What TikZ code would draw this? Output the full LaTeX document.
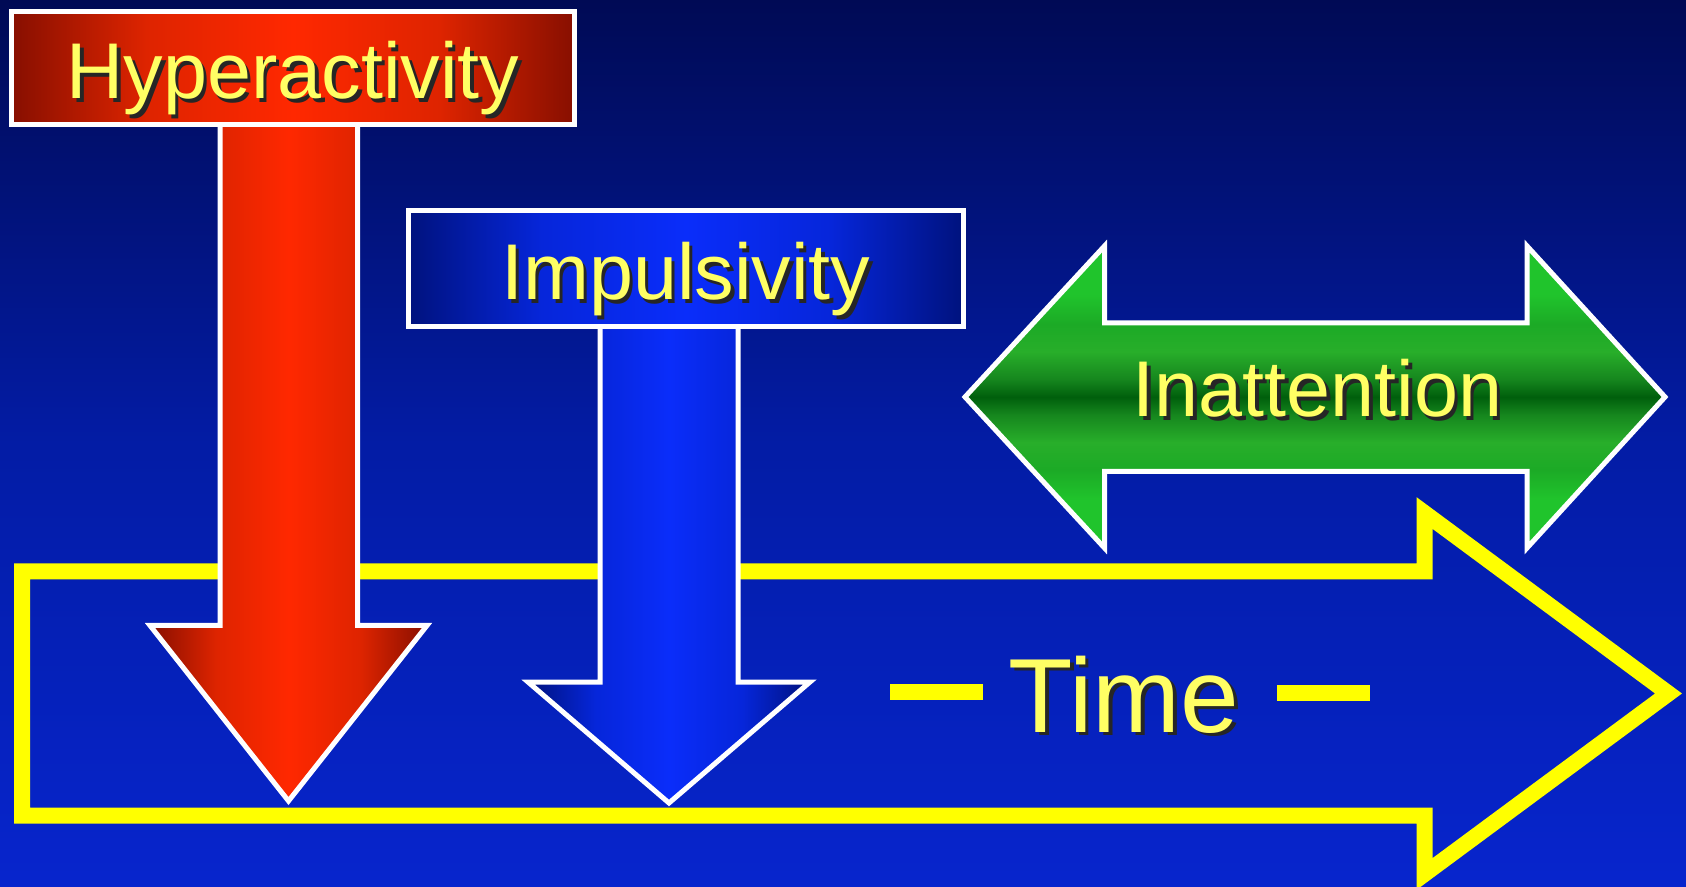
\documentclass[tikz,border=0pt]{standalone}
\usepackage{fontspec}
\setmainfont{Liberation Sans}

\definecolor{bgtop}{RGB}{0,10,85}
\definecolor{bgmid}{RGB}{3,28,165}
\definecolor{bgbot}{RGB}{7,37,205}
\definecolor{reddark}{RGB}{135,15,0}
\definecolor{redmid}{RGB}{222,36,0}
\definecolor{redbright}{RGB}{255,40,0}
\definecolor{bluedark}{RGB}{0,18,125}
\definecolor{bluemid}{RGB}{6,38,218}
\definecolor{bluebright}{RGB}{10,45,250}
\definecolor{greenbright}{RGB}{32,196,44}
\definecolor{greenmid}{RGB}{28,170,38}
\definecolor{greenband}{RGB}{40,174,42}
\definecolor{greenlow}{RGB}{22,135,30}
\definecolor{greendark}{RGB}{0,95,12}
\definecolor{textyellow}{RGB}{255,255,100}
\definecolor{timeyellow}{RGB}{255,255,0}

\pgfdeclarehorizontalshading{redbar}{100bp}{color(0bp)=(reddark); color(25bp)=(reddark);
  color(37bp)=(redmid); color(50bp)=(redbright); color(63bp)=(redmid);
  color(75bp)=(reddark); color(100bp)=(reddark)}
\pgfdeclarehorizontalshading{bluebar}{100bp}{color(0bp)=(bluedark); color(25bp)=(bluedark);
  color(37bp)=(bluemid); color(50bp)=(bluebright); color(63bp)=(bluemid);
  color(75bp)=(bluedark); color(100bp)=(bluedark)}
\pgfdeclareverticalshading{greenbar}{100bp}{color(0bp)=(greenbright); color(33bp)=(greenbright);
  color(38bp)=(greenmid); color(42.5bp)=(greenband); color(47bp)=(greenlow);
  color(50bp)=(greendark); color(53bp)=(greenlow); color(57.5bp)=(greenband);
  color(62bp)=(greenmid); color(67bp)=(greenbright); color(100bp)=(greenbright)}

\newcommand{\bigtext}{\fontsize{22.5}{27}\selectfont}
\newcommand{\hugetext}{\fontsize{30}{36}\selectfont}
\newcommand{\shtext}[1]{\makebox[0pt][l]{\kern1pt\raisebox{-1pt}{\color{black!85}#1}}#1}

\begin{document}
\begin{tikzpicture}

\tikzset{outline/.style = {draw=white, line width=0.05cm}}
\tikzset{labelbox/.style = {outline, shade, inner sep=0pt, text=textyellow,
  text depth=0pt, text height=0.62cm, font=\bigtext}}
\tikzset{arrowtext/.style = {inner sep=0pt, text=textyellow, text depth=0pt}}
\tikzset{timeline/.style = {draw=timeyellow, line width=0.16cm}}

% background
\useasboundingbox (0,0) rectangle (16.86,-8.87);
\shade[top color=bgtop, bottom color=bgbot, middle color=bgmid] (0,0) rectangle (16.86,-8.87);

% time arrow
\draw[timeline] (0.22,-5.715) -- (14.245,-5.715) -- (14.245,-5.13) -- (16.685,-6.935)
  -- (14.245,-8.74) -- (14.245,-8.155) -- (0.22,-8.155) -- cycle;

% down arrows
\shadedraw[outline, shading=redbar] (2.20,-1.245) -- (2.20,-6.255) -- (1.50,-6.255)
  -- (2.885,-8.01) -- (4.27,-6.255) -- (3.575,-6.255) -- (3.575,-1.245) -- cycle;
\shadedraw[outline, shading=bluebar] (6.00,-3.265) -- (6.00,-6.82) -- (5.28,-6.82)
  -- (6.69,-8.03) -- (8.10,-6.82) -- (7.38,-6.82) -- (7.38,-3.265) -- cycle;

% boxes
\node[labelbox, shading=redbar, minimum width=5.63cm, minimum height=1.13cm] (hyper)
  at (2.93,-0.68) {\shtext{Hyperactivity}};
\node[labelbox, shading=bluebar, minimum width=5.55cm, minimum height=1.16cm] (impuls)
  at (6.86,-2.685) {\shtext{Impulsivity}};

% double arrow
\shadedraw[outline, shading=greenbar] (9.65,-3.97) -- (11.045,-2.46) -- (11.045,-3.23)
  -- (15.27,-3.23) -- (15.27,-2.46) -- (16.65,-3.97) -- (15.27,-5.48) -- (15.27,-4.715)
  -- (11.045,-4.715) -- (11.045,-5.48) -- cycle;

% labels
\node[arrowtext, font=\bigtext, text height=0.40cm] (inatt) at (13.175,-3.97) {\shtext{Inattention}};
\node[arrowtext, font=\hugetext, text height=0.774cm] (time) at (11.24,-6.935) {\shtext{Time}};
\fill[timeyellow] (8.90,-6.84) rectangle (9.83,-7.00);
\fill[timeyellow] (12.77,-6.855) rectangle (13.70,-7.015);

\end{tikzpicture}
\end{document}
